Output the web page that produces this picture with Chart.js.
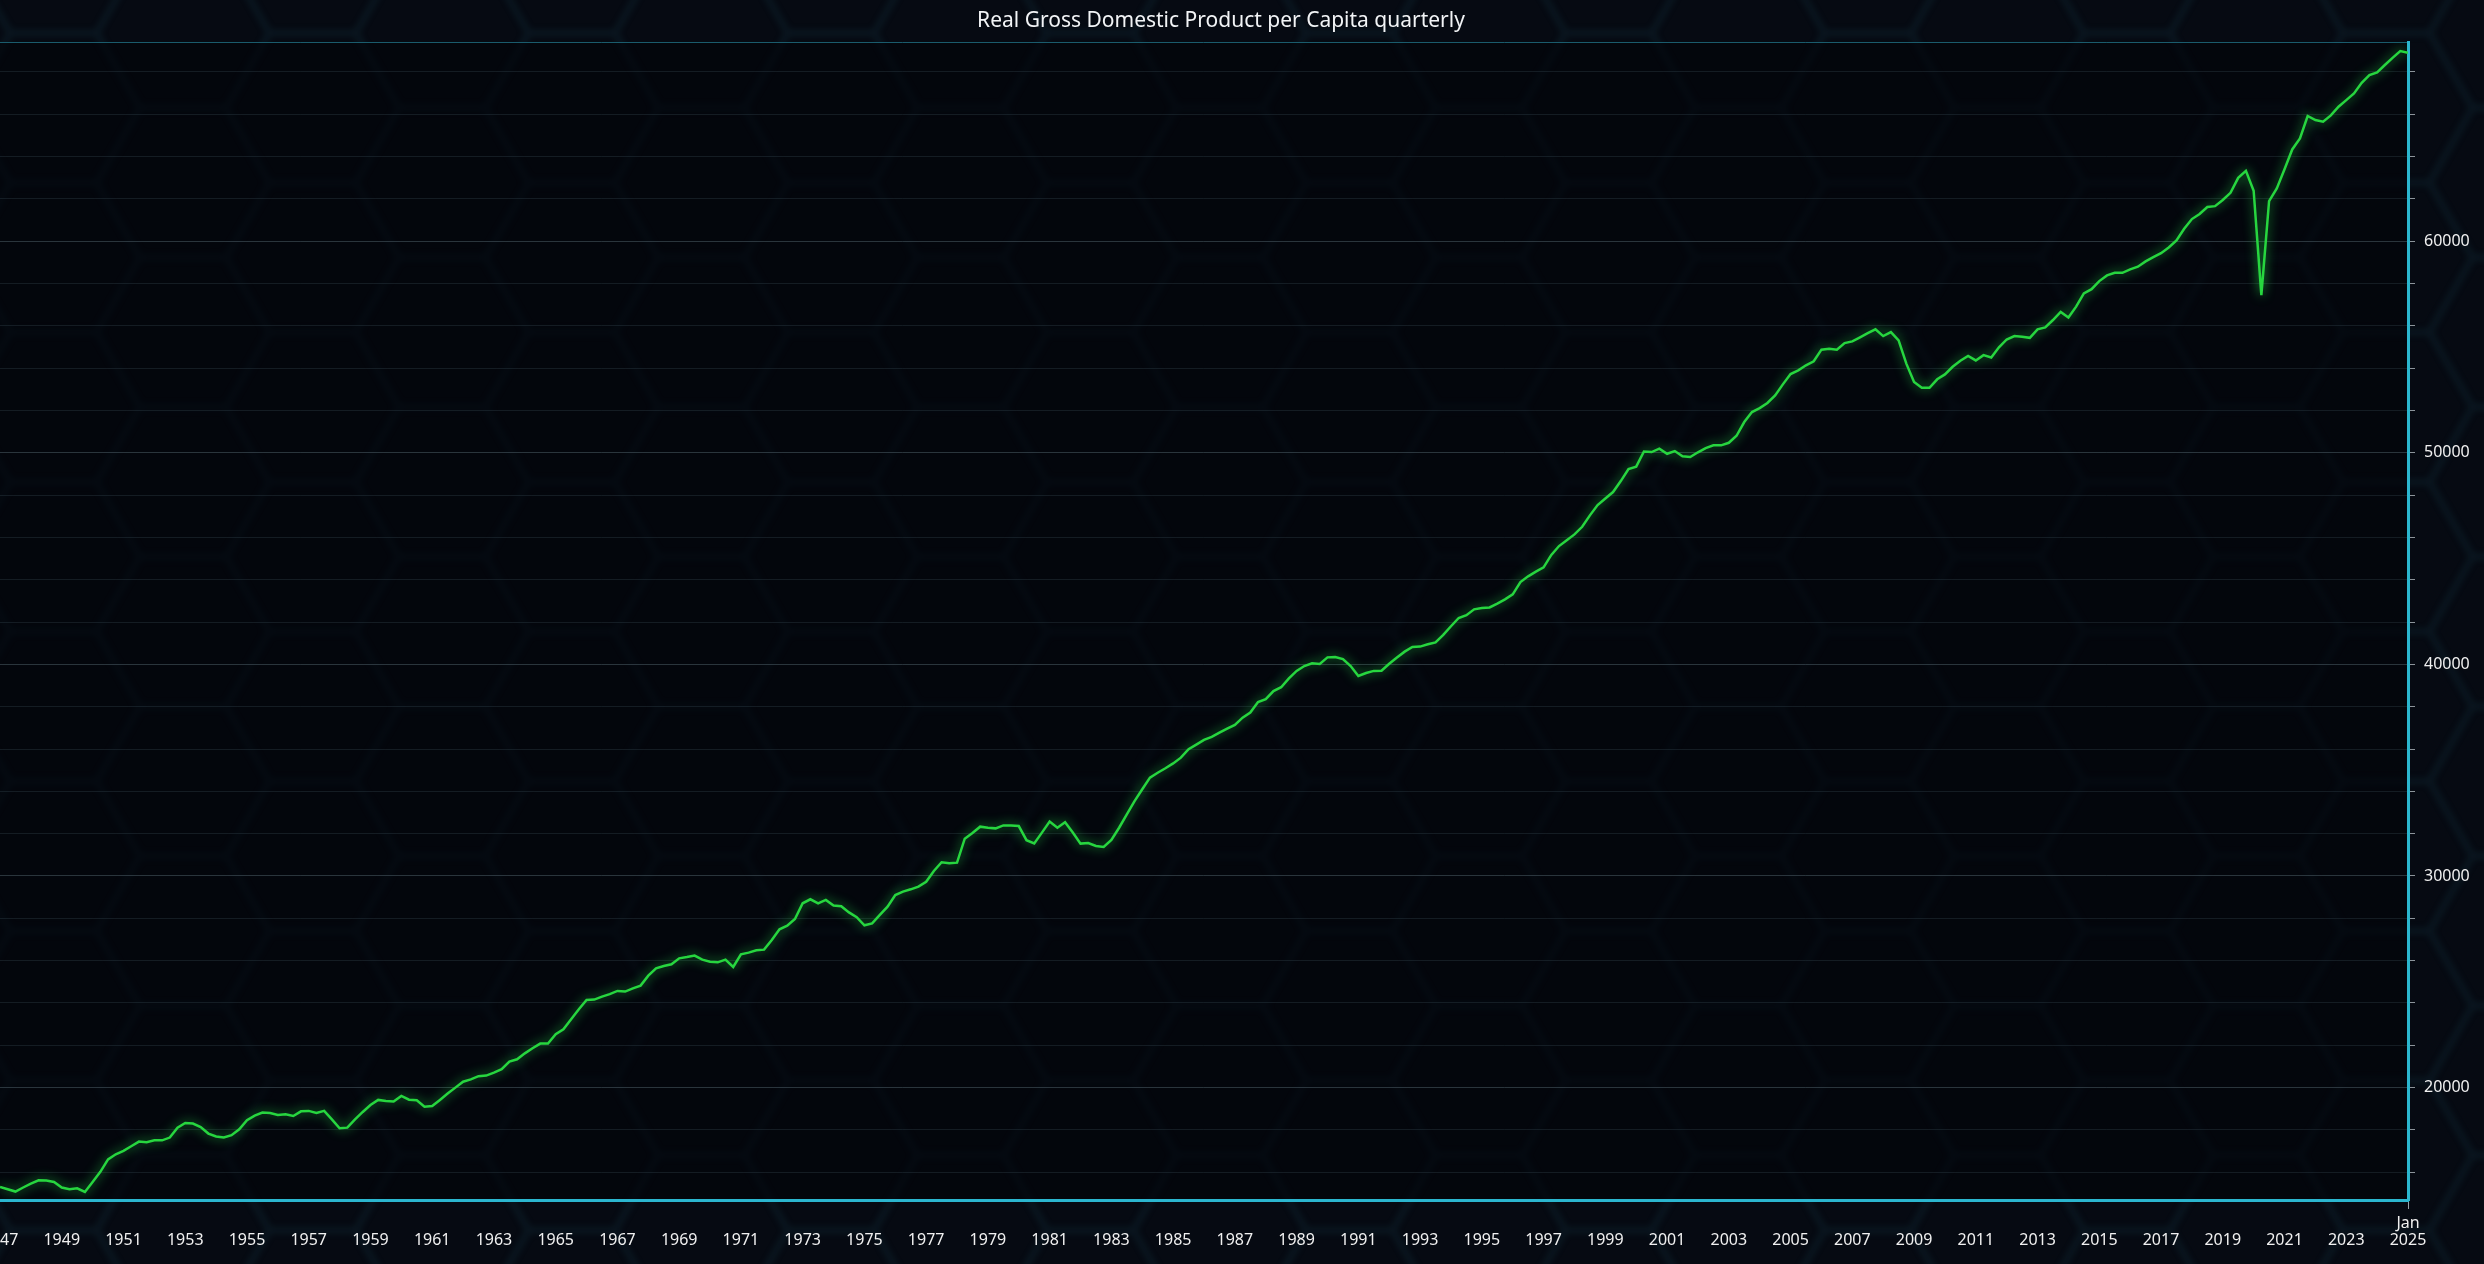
<!DOCTYPE html>
<html><head><meta charset="utf-8">
<script src="https://cdn.jsdelivr.net/npm/chart.js@4.4.1/dist/chart.umd.min.js"></script>
<style>
html,body{margin:0;padding:0;background:#05080f;overflow:hidden;width:2484px;height:1264px;}
#wrap{position:absolute;left:-42px;top:0;width:2526px;height:1264px;}
</style></head><body><div id="wrap"><canvas id="c"></canvas></div>
<script>
const TITLE = 'Real Gross Domestic Product per Capita quarterly';
const START_YEAR = 1947; // first observation: 1947 Q1, one value per quarter

const gdp1947_1949 = [15310,15200,15090,15280,15460,15620,15610,15540,15280,15200,15240,15070];
const gdp1950s = [15540,16020,16610,16850,17010,17230,17450,17420,17510,17510,
  17640,18110,18330,18300,18140,17830,17690,17640,17750,18030,
  18460,18680,18820,18800,18710,18740,18660,18880,18900,18800,
  18900,18500,18080,18110,18500,18850,19180,19420,19370,19340];
const gdp1960s = [19610,19430,19400,19100,19130,19420,19720,20000,20280,20390,
  20540,20570,20710,20870,21230,21340,21620,21860,22080,22080,
  22520,22760,23230,23700,24140,24160,24300,24420,24570,24540,
  24690,24820,25290,25640,25750,25830,26110,26170,26240,26050];
const gdp1970s = [25950,25920,26050,25700,26300,26380,26490,26520,26980,27480,
  27650,27970,28710,28900,28710,28870,28600,28570,28280,28050,
  27670,27760,28160,28550,29100,29260,29370,29500,29730,30240,
  30650,30600,30630,31760,32030,32330,32280,32250,32390,32380];
const gdp1980s = [32360,31690,31540,32050,32570,32280,32540,32050,31530,31560,
  31420,31370,31700,32280,32910,33540,34100,34650,34880,35090,
  35320,35590,35990,36210,36430,36570,36770,36960,37140,37480,
  37720,38220,38360,38740,38920,39340,39690,39920,40050,40020];
const gdp1990s = [40330,40350,40250,39920,39450,39590,39690,39700,40030,40320,
  40600,40820,40840,40950,41040,41390,41800,42190,42320,42600,
  42660,42690,42870,43070,43310,43890,44160,44380,44580,45170,
  45590,45860,46140,46500,47040,47530,47840,48140,48660,49230];
const gdp2000s = [49340,50060,50030,50190,49950,50080,49830,49800,50020,50220,
  50350,50350,50470,50800,51450,51920,52110,52350,52710,53230,
  53720,53890,54130,54320,54870,54910,54870,55180,55260,55450,
  55650,55830,55510,55700,55310,54210,53340,53070,53070,53470];
const gdp2010s = [53700,54060,54350,54570,54360,54610,54500,54980,55350,55510,
  55480,55430,55830,55920,56270,56650,56390,56900,57530,57730,
  58110,58380,58500,58500,58660,58790,59040,59240,59430,59700,
  60030,60580,61040,61280,61610,61650,61940,62280,62990,63320];
const gdp2020s = [62380,57450,61890,62490,63390,64330,64850,65910,65720,65640,
  65940,66350,66660,66980,67480,67840,67970,68320,68660,68980,68900];

const xTickYears = [1947,1949,1951,1953,1955,1957,1959,1961,1963,1965,1967,1969,1971,1973,1975,1977,1979,
  1981,1983,1985,1987,1989,1991,1993,1995,1997,1999,2001,2003,2005,2007,2009,2011,2013,2015,2017,2019,2021,2023,2025];
const yGridValues = [16000,18000,20000,22000,24000,26000,28000,30000,32000,34000,36000,38000,40000,
  42000,44000,46000,48000,50000,52000,54000,56000,58000,60000,62000,64000,66000,68000];
const yLabelValues = [20000,30000,40000,50000,60000];
const X_MIN = 1947, X_MAX = 2025;
const Y_MIN = 14690, Y_MAX = 69400;

const gdp = [].concat(gdp1947_1949, gdp1950s, gdp1960s, gdp1970s, gdp1980s, gdp1990s, gdp2000s, gdp2010s, gdp2020s);
const points = gdp.map((v, i) => ({x: START_YEAR + i / 4, y: v}));

const SHIFT = 42;
const bgPlugin = {
  id: 'bg',
  beforeDraw(chart) {
    const {ctx, chartArea: a, width, height} = chart;
    ctx.save();
    ctx.fillStyle = '#060a12';
    ctx.fillRect(0, 0, width, height);
    ctx.translate(SHIFT, 0);
    const s = 86.4, h = Math.sqrt(3) * s, ox = 2256.6, oy = 33;
    ctx.beginPath();
    for (let k = -20; k <= 3; k++) {
      const cx = ox + 1.5 * s * k;
      for (let r = -2; r <= 10; r++) {
        const cy = oy + h * r + ((k & 1) ? h / 2 : 0);
        for (let j = 0; j < 6; j++) {
          const ang = Math.PI / 3 * j;
          const px = cx + s * Math.cos(ang), py = cy + s * Math.sin(ang);
          if (j === 0) ctx.moveTo(px, py); else ctx.lineTo(px, py);
        }
        ctx.closePath();
      }
    }
    ctx.filter = 'blur(3px)';
    ctx.strokeStyle = 'rgba(30,95,110,0.16)';
    ctx.lineWidth = 6;
    ctx.stroke();
    ctx.restore();
    ctx.save();
    ctx.fillStyle = 'rgba(2,4,9,0.6)';
    ctx.fillRect(a.left, a.top, a.right - a.left, a.bottom - a.top);
    ctx.restore();
  }
};
const glowPlugin = {
  id: 'glow',
  beforeDatasetDraw(chart) { const c = chart.ctx; c.save(); c.shadowColor = 'rgba(40,230,80,0.8)'; c.shadowBlur = 11; },
  afterDatasetDraw(chart) { chart.ctx.restore(); }
};
const titleCenterPlugin = {
  id: 'titleCenter',
  afterLayout(chart) { if (chart.titleBlock) { chart.titleBlock.left = 0; chart.titleBlock.right = chart.width; } }
};

new Chart(document.getElementById('c'), {
  type: 'line',
  data: { datasets: [{ data: points, borderColor: '#27d63f', borderWidth: 2.5, pointRadius: 0, tension: 0, fill: false }] },
  options: {
    responsive: true, maintainAspectRatio: false, animation: false, devicePixelRatio: 1,
    layout: { padding: { left: SHIFT, right: 0, top: 0, bottom: 0 } },
    plugins: {
      legend: { display: false }, tooltip: { enabled: false },
      title: { display: true, text: TITLE, color: '#f2f4f6', font: { family: 'Noto Sans', size: 21, weight: 'normal', lineHeight: 1.15 }, padding: { top: 9, bottom: 9 } }
    },
    scales: {
      x: {
        type: 'linear', position: 'bottom', min: X_MIN, max: X_MAX,
        afterBuildTicks(scale) { scale.ticks = xTickYears.map(v => ({value: v})); },
        afterFit(scale) { scale.height = 64; },
        grid: { display: true, drawOnChartArea: false, drawTicks: true, tickLength: 9,
          tickColor: c => (c.tick && c.tick.value === X_MAX) ? '#9aa4aa' : 'rgba(0,0,0,0)' },
        border: { display: true, color: '#2bb6cf', width: 3 },
        ticks: { color: '#f0f0f0', font: { family: 'Noto Sans', size: 16, lineHeight: 1.05 }, padding: 6, maxRotation: 0, autoSkip: false,
          callback: v => v === X_MAX ? ['Jan', String(v)] : ['', String(v)] }
      },
      y: {
        type: 'linear', position: 'right', min: Y_MIN, max: Y_MAX,
        afterBuildTicks(scale) { scale.ticks = yGridValues.map(v => ({value: v})).concat([{value: Y_MAX}]); },
        afterFit(scale) { scale.width = 76; },
        grid: {
          color: c => c.tick.value === Y_MAX ? 'rgba(35,120,140,0.75)' : (yLabelValues.includes(c.tick.value) ? 'rgba(90,110,120,0.45)' : 'rgba(60,80,90,0.3)'),
          lineWidth: 1, tickLength: 7,
          tickColor: c => c.tick.value === Y_MAX ? 'rgba(0,0,0,0)' : '#8c949a'
        },
        border: { display: true, color: '#2bb6cf', width: 3 },
        ticks: { color: '#f0f0f0', font: { family: 'Noto Sans', size: 16 }, padding: 9,
          callback: v => yLabelValues.includes(v) ? String(v) : '' }
      }
    }
  },
  plugins: [bgPlugin, glowPlugin, titleCenterPlugin]
});
</script></body></html>
